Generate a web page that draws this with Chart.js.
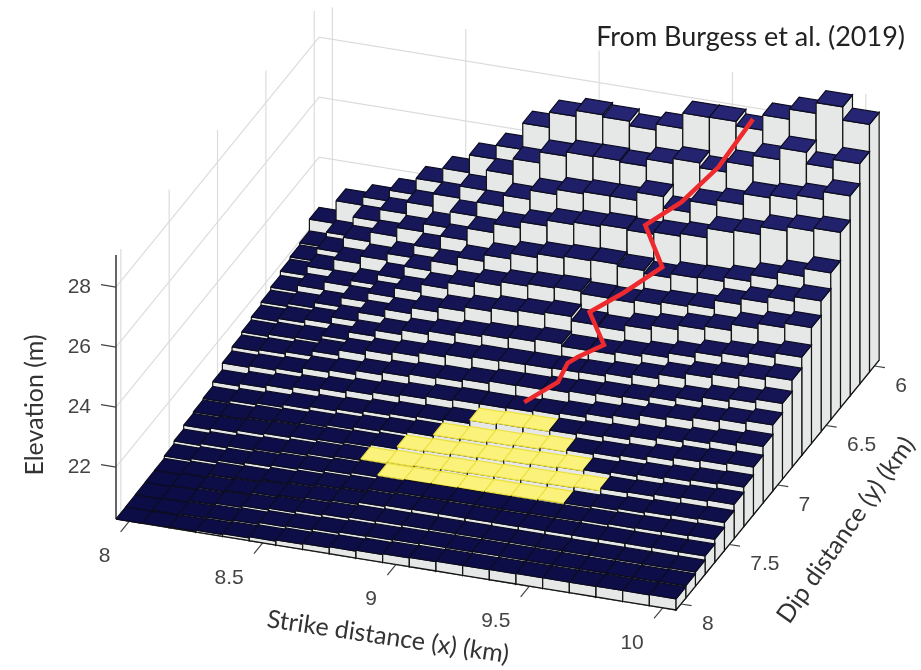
<!DOCTYPE html>
<html>
<head>
<meta charset="utf-8">
<title>Elevation</title>
<script src="https://cdn.jsdelivr.net/npm/chart.js@4/dist/chart.umd.min.js"></script>
<style>
  html, body { margin: 0; padding: 0; background: #fff; }
  canvas { display: block; }
</style>
</head>
<body>
<canvas id="chart" width="921" height="670"></canvas>
<script>
var strikeX = [8, 8.1, 8.2, 8.3, 8.4, 8.5, 8.6, 8.7, 8.8, 8.9, 9, 9.1, 9.2, 9.3, 9.4, 9.5, 9.6, 9.7, 9.8, 9.9, 10];
var dipY = [8, 7.9, 7.8, 7.7, 7.6, 7.5, 7.4, 7.3, 7.2, 7.1, 7, 6.9, 6.8, 6.7, 6.6, 6.5, 6.4, 6.3, 6.2, 6.1, 6];

// one row per dip distance, front (8 km) to back (6 km)
var elevation = [
	[20.27,20.28,20.30,20.33,20.36,20.40,20.44,20.47,20.50,20.53,20.56,20.58,20.60,20.60,20.61,20.62,20.62,20.62,20.63,20.63,20.64],
	[20.28,20.31,20.34,20.38,20.42,20.48,20.52,20.56,20.60,20.62,20.64,20.66,20.66,20.67,20.67,20.67,20.67,20.67,20.67,20.67,20.68],
	[20.29,20.33,20.38,20.44,20.50,20.56,20.62,20.66,20.70,20.72,20.73,20.73,20.73,20.73,20.73,20.73,20.73,20.73,20.73,20.73,20.74],
	[20.30,20.35,20.42,20.47,20.55,20.60,20.67,20.72,20.80,20.84,20.85,20.85,20.85,20.85,20.86,20.86,20.86,20.87,20.87,20.88,20.88],
	[20.31,20.36,20.46,20.50,20.58,20.64,20.71,20.76,20.85,20.89,20.89,20.90,20.90,20.90,20.91,20.92,20.95,20.98,21.00,21.02,21.04],
	[20.39,20.45,20.54,20.61,20.67,20.72,20.79,20.85,20.90,20.91,20.92,20.93,20.94,20.95,20.97,20.99,21.04,21.09,21.14,21.17,21.20],
	[20.49,20.55,20.62,20.67,20.74,20.80,20.86,20.90,20.94,20.97,21.00,21.03,21.05,21.08,21.10,21.14,21.22,21.25,21.32,21.37,21.41],
	[20.62,20.67,20.74,20.79,20.84,20.88,20.93,20.99,21.05,21.08,21.12,21.15,21.19,21.22,21.26,21.30,21.37,21.44,21.50,21.55,21.59],
	[20.67,20.70,20.78,20.83,20.90,20.96,21.04,21.10,21.16,21.20,21.23,21.27,21.31,21.36,21.42,21.47,21.53,21.65,21.75,21.80,21.86],
	[20.72,20.80,20.86,20.95,21.03,21.09,21.17,21.23,21.28,21.33,21.44,21.48,21.50,21.54,21.60,21.66,21.78,21.87,21.96,22.05,22.15],
	[20.88,20.97,21.06,21.15,21.24,21.32,21.40,21.47,21.55,21.59,21.59,21.61,21.66,21.72,21.84,21.93,22.08,22.18,22.29,22.37,22.47],
	[21.11,21.16,21.22,21.38,21.45,21.58,21.67,21.75,21.79,21.87,21.95,21.96,22.00,22.05,22.12,22.17,22.30,22.42,22.57,22.67,22.79],
	[21.25,21.30,21.38,21.55,21.72,21.86,21.95,22.07,22.16,22.22,22.25,22.26,22.28,22.30,22.39,22.50,22.65,22.82,22.94,23.05,23.17],
	[21.35,21.42,21.47,21.67,21.93,22.13,22.28,22.39,22.50,22.57,22.62,22.70,22.61,22.62,22.71,22.81,22.96,23.14,23.25,23.39,23.54],
	[21.45,21.55,21.67,21.89,22.19,22.43,22.63,22.80,22.94,23.06,23.12,23.20,23.06,23.01,23.20,23.34,23.49,23.60,23.81,23.98,24.13],
	[21.55,21.65,21.83,22.14,22.44,22.75,23.01,23.22,23.40,23.53,23.61,23.65,23.57,23.55,23.64,23.72,23.79,24.07,24.27,24.47,24.62],
	[21.65,21.86,22.12,22.31,22.65,23.07,23.40,23.67,23.89,24.08,24.21,24.27,24.30,24.23,24.13,24.27,24.30,24.44,24.67,24.90,25.16],
	[21.79,22.10,22.48,22.73,22.96,23.38,23.83,24.23,24.53,24.74,24.93,25.01,25.08,25.04,25.12,25.21,25.53,25.61,25.87,26.01,26.11],
	[21.87,22.29,22.81,23.13,23.43,23.70,24.24,24.71,25.08,25.39,25.56,25.63,25.63,25.90,25.52,25.90,26.07,26.43,26.53,26.67,26.93],
	[21.94,22.44,23.09,23.49,23.88,24.30,24.70,25.37,25.90,26.27,26.41,26.42,26.37,26.61,26.77,26.61,26.95,27.31,27.70,27.32,27.61],
	[22.33,23.09,23.37,23.73,24.27,24.75,25.34,25.81,26.69,27.20,27.40,27.33,27.18,27.38,27.89,27.90,27.75,28.26,28.60,28.96,28.52]
];

// yellow patch: rows of dip distance with first and last strike cell
var patchY = [7.5, 7.4, 7.3, 7.2, 7.1];
var patchXFrom = [8.8, 8.7, 8.8, 8.9, 9];
var patchXTo = [9.4, 9.5, 9.4, 9.3, 9.2];

// red trace
var traceX = [9.10, 9.19, 9.19, 9.21, 9.29, 9.20, 9.29, 9.40, 9.30, 9.41, 9.52, 9.595];
var traceY = [7.00, 6.90, 6.80, 6.75, 6.70, 6.60, 6.50, 6.40, 6.30, 6.23, 6.15, 6.00];
var traceZ = [21.66, 22.06, 22.30, 22.33, 22.65, 23.22, 23.59, 24.21, 25.07, 25.72, 26.73, 27.84];

var xTicks = [8, 8.5, 9, 9.5, 10];
var yTicks = [6, 6.5, 7, 7.5, 8];
var zTicks = [22, 24, 26, 28];

var floorZ = 20.27;
var topZ = 29.07;
var xEdge0 = 7.95, xEdge1 = 10.05;
var yEdge0 = 8.05, yEdge1 = 5.95;

// fixed orthographic view, returns a point on the chart's x/y scales
function project(x, y, z) {
	return {
		x: 116 + (x - xEdge0) * 266.7 + (yEdge0 - y) * 96.7,
		y: 519 + (x - xEdge0) * 43.3 - (yEdge0 - y) * 119 - (z - floorZ) * 30
	};
}

function lineSet(points, color, width) {
	return {
		data: points,
		borderColor: color,
		borderWidth: width,
		pointRadius: 0,
		tension: 0,
		fill: false,
		showLine: true,
		clip: false
	};
}

function faceSet(points, fillColor, edgeColor, width) {
	var closed = points.concat([points[0]]);
	return {
		data: closed,
		borderColor: edgeColor,
		backgroundColor: fillColor,
		borderWidth: width,
		pointRadius: 0,
		tension: 0,
		fill: "shape",
		showLine: true,
		clip: false
	};
}

function topColor(z) {
	var t = Math.min(1, (z - floorZ) / 7);
	var r = Math.round(12 + t * 25);
	var g = Math.round(12 + t * 25);
	var b = Math.round(70 + t * 45);
	return "rgb(" + r + "," + g + "," + b + ")";
}

function inPatch(j, i) {
	for (var k = 0; k < patchY.length; k++) {
		if (Math.abs(dipY[j] - patchY[k]) < 0.01 &&
			strikeX[i] > patchXFrom[k] - 0.01 && strikeX[i] < patchXTo[k] + 0.01) {
			return true;
		}
	}
	return false;
}

var backSets = [];

// walls, drawn first
zTicks.forEach(function (z) {
	backSets.push(lineSet([project(xEdge0, yEdge0, z), project(xEdge0, yEdge1, z), project(xEdge1, yEdge1, z)], "#dcdcdc", 1.2));
});
yTicks.forEach(function (y) {
	backSets.push(lineSet([project(xEdge0, y, floorZ), project(xEdge0, y, topZ)], "#dcdcdc", 1.2));
});
xTicks.forEach(function (x) {
	backSets.push(lineSet([project(x, yEdge1, floorZ), project(x, yEdge1, topZ)], "#dcdcdc", 1.2));
});

// axis lines and tick marks
backSets.push(lineSet([project(xEdge0, yEdge0, floorZ), project(xEdge0, yEdge0, topZ)], "#333333", 1.5));
backSets.push(lineSet([project(xEdge0, yEdge0, floorZ), project(xEdge1, yEdge0, floorZ), project(xEdge1, yEdge1, floorZ)], "#444444", 1.5));
zTicks.forEach(function (z) {
	backSets.push(lineSet([project(xEdge0, yEdge0, z), project(xEdge0 - 0.056, yEdge0, z)], "#444444", 1.2));
});
xTicks.forEach(function (x) {
	backSets.push(lineSet([project(x, yEdge0, floorZ), project(x, yEdge0 + 0.09, floorZ)], "#444444", 1.2));
});
yTicks.forEach(function (y) {
	backSets.push(lineSet([project(xEdge1, y, floorZ), project(xEdge1 + 0.04, y, floorZ)], "#444444", 1.2));
});

// bars, back row first and left to right so nearer ones cover
for (var j = dipY.length - 1; j >= 0; j--) {
	for (var i = 0; i < strikeX.length; i++) {
		var z = elevation[j][i];
		var x0 = strikeX[i] - 0.05, x1 = strikeX[i] + 0.05;
		var y0 = dipY[j] + 0.05, y1 = dipY[j] - 0.05;
		var side = "#e6e8e8";
		var edge = "#141414";
		backSets.push(faceSet([project(x0, y0, z), project(x1, y0, z), project(x1, y0, floorZ), project(x0, y0, floorZ)], side, edge, 1.2));
		backSets.push(faceSet([project(x1, y0, z), project(x1, y1, z), project(x1, y1, floorZ), project(x1, y0, floorZ)], side, edge, 1.2));
		if (inPatch(j, i)) {
			backSets.push(faceSet([project(x0, y0, z), project(x1, y0, z), project(x1, y1, z), project(x0, y1, z)], "#fbf27c", "#ece03a", 1.2));
		} else {
			backSets.push(faceSet([project(x0, y0, z), project(x1, y0, z), project(x1, y1, z), project(x0, y1, z)], topColor(z), "#0c0c22", 1.2));
		}
	}
}

var tracePoints = traceX.map(function (x, k) {
	return project(x, traceY[k], traceZ[k]);
});
backSets.push(lineSet(tracePoints, "#ee2a2e", 4.5));

// chart draws the first dataset on top
var datasets = backSets.reverse();

function drawText(ctx, text, px, py, font, color, align, angle) {
	ctx.save();
	ctx.translate(px, py);
	if (angle) {
		ctx.rotate(angle * Math.PI / 180);
	}
	ctx.font = font;
	ctx.fillStyle = color;
	ctx.textAlign = align;
	ctx.textBaseline = "middle";
	ctx.fillText(text, 0, 0);
	ctx.restore();
}

var axisText = {
	id: "axisText",
	afterDraw: function (chart) {
		var ctx = chart.ctx;
		var sx = chart.scales.x, sy = chart.scales.y;
		var tickFont = "21px 'Liberation Sans'";
		var tickColor = "#444444";
		xTicks.forEach(function (x) {
			var p = project(x, yEdge0, floorZ);
			drawText(ctx, String(x), sx.getPixelForValue(p.x) - 19, sy.getPixelForValue(p.y) + 35, tickFont, tickColor, "right");
		});
		yTicks.forEach(function (y) {
			var p = project(xEdge1, y, floorZ);
			drawText(ctx, String(y), sx.getPixelForValue(p.x) + 21, sy.getPixelForValue(p.y) + 20, tickFont, tickColor, "left");
		});
		zTicks.forEach(function (z) {
			var p = project(xEdge0, yEdge0, z);
			drawText(ctx, String(z), sx.getPixelForValue(p.x) - 25, sy.getPixelForValue(p.y), tickFont, tickColor, "right");
		});
		var titleFont = "25px Lato";
		drawText(ctx, "Elevation (m)", 35, 405, titleFont, "#333333", "center", -90);
		drawText(ctx, "Strike distance (x) (km)", 388, 637, titleFont, "#333333", "center", 8.5);
		drawText(ctx, "Dip distance (y) (km)", 846, 530, titleFont, "#333333", "center", -55);
		drawText(ctx, "From Burgess et al. (2019)", 905, 37, "27px Lato", "#222222", "right");
	}
};

new Chart(document.getElementById("chart"), {
	type: "scatter",
	data: { datasets: datasets },
	options: {
		responsive: false,
		animation: false,
		events: [],
		layout: { padding: 0 },
		plugins: {
			legend: { display: false },
			title: { display: false },
			tooltip: { enabled: false }
		},
		scales: {
			x: { type: "linear", min: 0, max: 921, display: false },
			y: { type: "linear", min: 0, max: 670, reverse: true, display: false }
		}
	},
	plugins: [axisText]
});
</script>
</body>
</html>
